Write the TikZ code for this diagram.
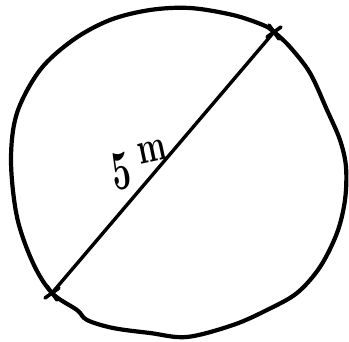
\documentclass[tikz,border=0pt]{standalone}
\usetikzlibrary{calc}
\begin{document}
\begin{tikzpicture}[x=1pt,y=-1pt,
  ink/.style={line width=4.2pt,line cap=round,line join=round},
  crossmark/.style={ink,line width=3.6pt},
  hand/.style={inner sep=0pt}]
\useasboundingbox (0,0) rectangle (349,341);
\coordinate (A) at (274,32);
\coordinate (B) at (52,293);
\draw[ink] plot[smooth cycle,tension=0.55] coordinates{
 (274,32) (290,47) (310,73) (327,110) (340,140) (346,167) (345,200)
 (337,233) (320,267) (297,293) (267,310) (233,325) (187,337) (150,333)
 (113,328) (87,320) (77,310) (52,293) (33,263) (17,217) (11,160)
 (17,113) (40,70) (73,40) (110,20) (150,10) (190,8) (233,15) (263,25)};
\draw[ink,line width=3.4pt] (A) -- (B);
\draw[crossmark] ($(A)+(-5,-7)$) -- ($(A)+(5,7)$) ($(A)+(-7,5)$) -- ($(A)+(7,-5)$);
\draw[crossmark] ($(B)+(-5,-7)$) -- ($(B)+(5,7)$) ($(B)+(-7,5)$) -- ($(B)+(7,-5)$);
\node[hand,rotate=8,font=\fontsize{56}{56}\selectfont\bfseries] (five) at (121,171) {\scalebox{0.6}[1]{5}};
\node[hand,rotate=12,font=\fontsize{36}{36}\selectfont\bfseries] (unit) at (152,152) {\scalebox{0.85}[1.25]{m}};
\end{tikzpicture}
\end{document}
